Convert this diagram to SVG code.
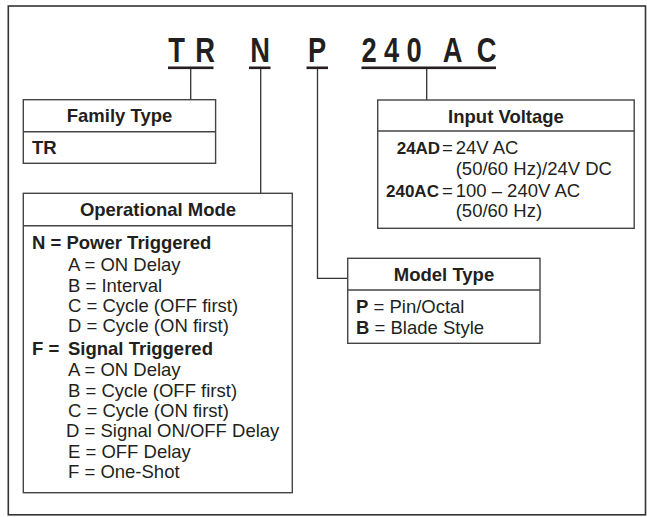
<svg xmlns="http://www.w3.org/2000/svg" width="647" height="517" viewBox="0 0 647 517">
<style>
  text { font-family: "Liberation Sans", Arial, sans-serif; fill: #231f20; }
  .big { font-size: 35px; font-weight: bold; text-anchor: middle; }
  .hdr { font-size: 18.5px; font-weight: bold; text-anchor: middle; }
  .t { font-size: 18.5px; }
  .b { font-weight: bold; }
  .code { font-size: 17px; font-weight: bold; }
  .box { fill: #fff; stroke: #444; stroke-width: 1.4; }
  .div { stroke: #444; stroke-width: 1.4; }
  .ul { fill: #231f20; }
  .conn { fill: none; stroke: #333; stroke-width: 1.3; }
</style>
<rect x="0" y="0" width="647" height="517" fill="#fff"/>
<rect id="frame" x="8.3" y="6" width="637.2" height="508.8" fill="none" stroke="#333" stroke-width="1.6"/>

<g id="code">
  <text class="big" transform="translate(176.5,62) scale(0.78,1)">T</text>
  <text class="big" transform="translate(205,62) scale(0.78,1)">R</text>
  <text class="big" transform="translate(260,62) scale(0.78,1)">N</text>
  <text class="big" transform="translate(317,62) scale(0.78,1)">P</text>
  <text class="big" transform="translate(369,62) scale(0.78,1)">2</text>
  <text class="big" transform="translate(391.5,62) scale(0.78,1)">4</text>
  <text class="big" transform="translate(414,62) scale(0.78,1)">0</text>
  <text class="big" transform="translate(452.5,62) scale(0.78,1)">A</text>
  <text class="big" transform="translate(486.5,62) scale(0.78,1)">C</text>
  <rect class="ul" x="168" y="66.5" width="45.5" height="2.6"/>
  <rect class="ul" x="249" y="66.5" width="21.5" height="2.6"/>
  <rect class="ul" x="306.5" y="66.5" width="21.5" height="2.6"/>
  <rect class="ul" x="361.5" y="66.5" width="134.5" height="2.6"/>
</g>

<g id="connectors">
  <line class="conn" x1="190.7" y1="69" x2="190.7" y2="99.7"/>
  <line class="conn" x1="260.7" y1="69" x2="260.7" y2="193.3"/>
  <polyline class="conn" points="317.5,69 317.5,278.3 347.7,278.3"/>
  <line class="conn" x1="426.7" y1="69" x2="426.7" y2="100"/>
</g>

<g id="family-type">
  <rect class="box" x="23.3" y="99.7" width="192.3" height="63.6"/>
  <line class="div" x1="23.3" y1="131.7" x2="215.6" y2="131.7"/>
  <text class="hdr" x="119.5" y="122">Family Type</text>
  <text class="t b" x="32" y="154">TR</text>
</g>

<g id="input-voltage">
  <rect class="box" x="377.7" y="100" width="256.5" height="128.3"/>
  <line class="div" x1="377.7" y1="131" x2="634.2" y2="131"/>
  <text class="hdr" x="506" y="123">Input Voltage</text>
  <text class="code" x="396.7" y="154">24AD</text>
  <text class="t" x="442" y="154">=</text>
  <text class="t" x="455.7" y="154">24V AC</text>
  <text class="t" x="455.7" y="175">(50/60 Hz)/24V DC</text>
  <text class="code" x="386" y="196.5">240AC</text>
  <text class="t" x="442" y="196.5">=</text>
  <text class="t" x="455.7" y="196.5">100 – 240V AC</text>
  <text class="t" x="455.7" y="216.5">(50/60 Hz)</text>
</g>

<g id="operational-mode">
  <rect class="box" x="23.3" y="193.3" width="269" height="299.4"/>
  <line class="div" x1="23.3" y1="225.7" x2="292.3" y2="225.7"/>
  <text class="hdr" x="158" y="216">Operational Mode</text>
  <text class="t b" x="32" y="248.5">N = Power Triggered</text>
  <text class="t" x="68" y="271">A = ON Delay</text>
  <text class="t" x="68" y="291.5">B = Interval</text>
  <text class="t" x="68" y="312">C = Cycle (OFF first)</text>
  <text class="t" x="68" y="332">D = Cycle (ON first)</text>
  <text class="t b" x="32" y="355">F =</text>
  <text class="t b" x="68" y="355">Signal Triggered</text>
  <text class="t" x="68" y="376">A = ON Delay</text>
  <text class="t" x="68" y="396.5">B = Cycle (OFF first)</text>
  <text class="t" x="68" y="417">C = Cycle (ON first)</text>
  <text class="t" x="66" y="437">D = Signal ON/OFF Delay</text>
  <text class="t" x="68" y="458">E = OFF Delay</text>
  <text class="t" x="68" y="478">F = One-Shot</text>
</g>

<g id="model-type">
  <rect class="box" x="347.7" y="258.3" width="192.3" height="85"/>
  <line class="div" x1="347.7" y1="290" x2="540" y2="290"/>
  <text class="hdr" x="444" y="281">Model Type</text>
  <text class="t" x="356" y="312.5"><tspan class="b">P</tspan> = Pin/Octal</text>
  <text class="t" x="356" y="333.5"><tspan class="b">B</tspan> = Blade Style</text>
</g>
</svg>
